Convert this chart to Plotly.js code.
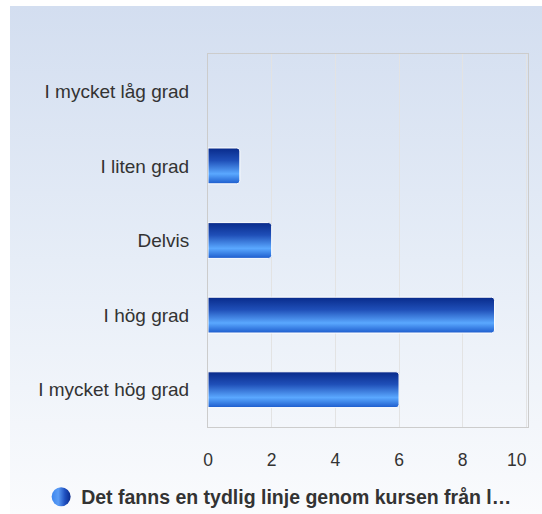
<!DOCTYPE html>
<html>
<head>
<meta charset="utf-8">
<script src="https://cdn.plot.ly/plotly-3.0.1.min.js"></script>
<style>
  html, body { margin: 0; padding: 0; background: #ffffff; }
  #bg { position: absolute; left: 10px; top: 6px; width: 532px; height: 508px;
        background: linear-gradient(to bottom, #d3def0 0%, #e6edf7 50%, #fafbfd 100%); }
  #chart { position: absolute; left: 0; top: 0; width: 542px; height: 514px; }
</style>
</head>
<body>
<div id="bg"></div>
<div id="chart"></div>
<script>
const categories = ["I mycket låg grad", "I liten grad", "Delvis", "I hög grad", "I mycket hög grad"];
const values = [0, 1, 2, 9, 6];
const seriesName = "Det fanns en tydlig linje genom kursen från l…";
const xTickVals = [0, 2, 4, 6, 8, 10];
const xTickText = ["0", "2", "4", "6", "8", "10"];

const fontFam = "Liberation Sans, Arial, sans-serif";

const trace = {
  type: "bar",
  orientation: "h",
  x: values,
  y: categories,
  name: seriesName,
  marker: { color: "#2455c0", line: { color: "#ffffff", width: 1 }, cornerradius: 3 },
  hoverinfo: "none",
  showlegend: true
};

const layout = {
  width: 542, height: 514,
  margin: { l: 208, r: 14, t: 54, b: 87 },
  paper_bgcolor: "rgba(0,0,0,0)",
  plot_bgcolor: "rgba(0,0,0,0)",
  bargap: 0.52,
  font: { family: fontFam, size: 18, color: "#333333" },
  xaxis: {
    range: [0, 10.05],
    tickvals: xTickVals, ticktext: xTickText,
    showgrid: true, gridcolor: "#e3e3e3", gridwidth: 1,
    zeroline: false,
    showline: true, mirror: true, linecolor: "#cccccc", linewidth: 1,
    ticks: "", ticklabelstandoff: 17, ticklabeloverflow: "allow",
    tickfont: { family: fontFam, size: 17.5, color: "#333333" },
    fixedrange: true
  },
  yaxis: {
    type: "category",
    categoryorder: "array", categoryarray: categories,
    autorange: "reversed",
    showgrid: false, zeroline: false,
    showline: true, mirror: true, linecolor: "#cccccc", linewidth: 1,
    ticks: "", ticklabelstandoff: 14,
    tickfont: { family: fontFam, size: 19, color: "#333333" },
    fixedrange: true
  },
  showlegend: true,
  legend: {
    orientation: "h",
    xref: "container", yref: "container",
    x: 0.515, xanchor: "center",
    y: 0.033, yanchor: "middle",
    font: { family: fontFam, size: 19.5, color: "#333333", weight: "bold" },
    bgcolor: "rgba(0,0,0,0)",
    itemclick: false, itemdoubleclick: false
  }
};

Plotly.newPlot("chart", [trace], layout, { displayModeBar: false, staticPlot: true }).then(function (gd) {
  const svgNS = "http://www.w3.org/2000/svg";
  const svg = gd.querySelector("svg.main-svg");
  let defs = svg.querySelector("defs");
  if (!defs) { defs = document.createElementNS(svgNS, "defs"); svg.insertBefore(defs, svg.firstChild); }

  function makeGrad(id, x2, y2, stops) {
    const g = document.createElementNS(svgNS, "linearGradient");
    g.setAttribute("id", id);
    g.setAttribute("x1", "0"); g.setAttribute("y1", "0");
    g.setAttribute("x2", x2); g.setAttribute("y2", y2);
    stops.forEach(function (s) {
      const st = document.createElementNS(svgNS, "stop");
      st.setAttribute("offset", s[0]);
      st.setAttribute("stop-color", s[1]);
      g.appendChild(st);
    });
    defs.appendChild(g);
  }
  makeGrad("barGrad", "0", "1", [["0%", "#082a8a"], ["35%", "#1f4fb8"], ["72%", "#5aa8ff"], ["100%", "#1c5bcc"]]);
  makeGrad("legGrad", "1", "0", [["0%", "#3d86ee"], ["35%", "#5a9cf5"], ["70%", "#1f50c0"], ["100%", "#0a2a8a"]]);

  gd.querySelectorAll(".barlayer .point path").forEach(function (p) {
    p.style.fill = "url(#barGrad)";
    const bb = p.getBBox();
    if (bb.width < 1) { p.style.display = "none"; }
  });
  gd.querySelectorAll(".legend .legendpoints path").forEach(function (p) {
    p.setAttribute("d", "M9.5,0A9.5,9.5 0 1,1 -9.5,0A9.5,9.5 0 1,1 9.5,0Z");
    p.style.fill = "url(#legGrad)";
    p.style.stroke = "none";
  });
  gd.querySelectorAll(".xtick text").forEach(function (t) {
    if (t.textContent === "10") { t.setAttribute("text-anchor", "end"); }
  });
});
</script>
</body>
</html>
